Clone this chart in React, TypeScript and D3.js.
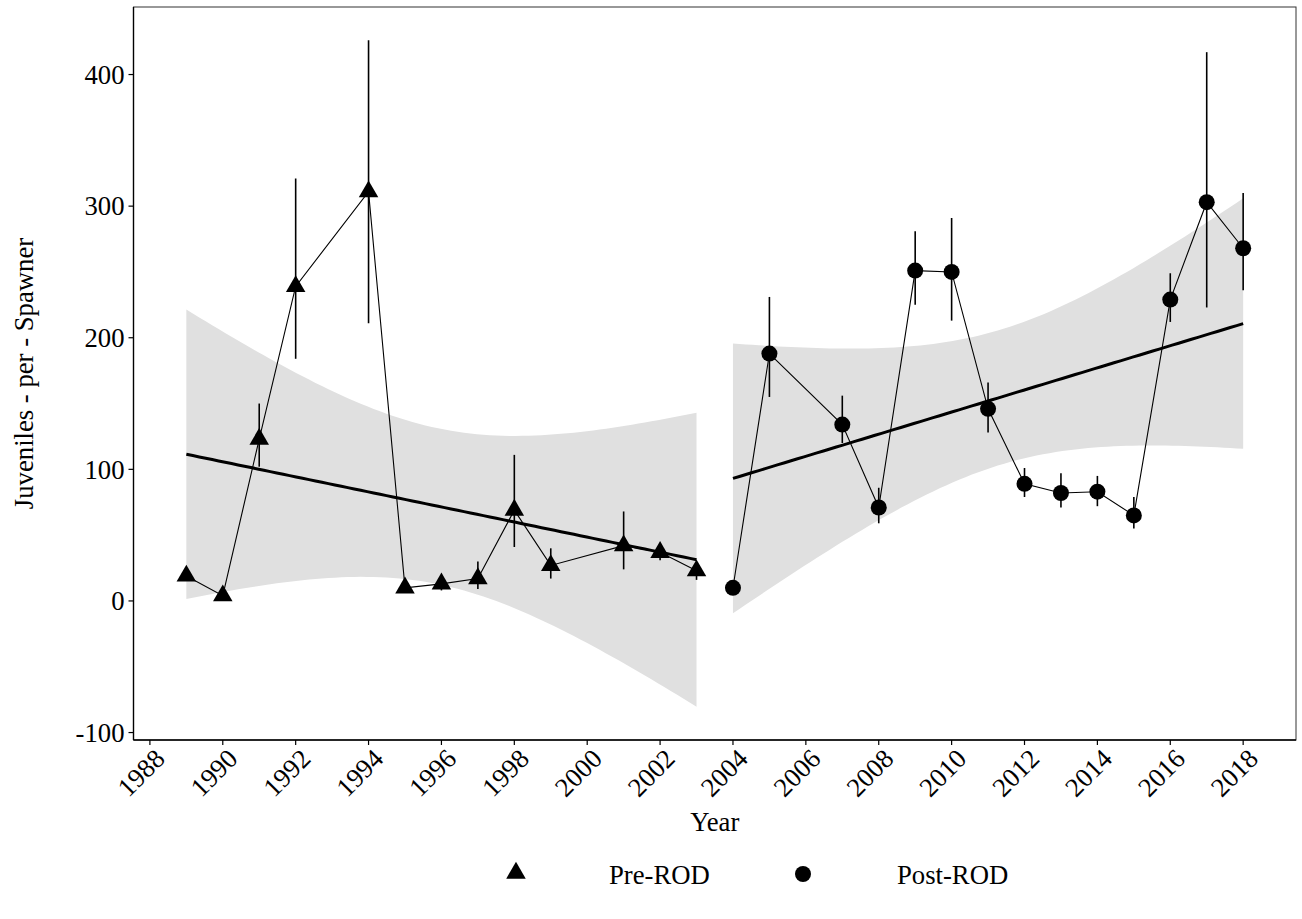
import React from "react";
import * as d3 from "d3";

// ---------- data ----------
const preYears = [1989, 1990, 1991, 1992, 1994, 1995, 1996, 1997, 1998, 1999, 2001, 2002, 2003];
const preValues = [19, 4, 123, 239, 311, 10, 13, 17, 69, 27, 42, 37, 23];
const preLow = [16, 2, 102, 184, 211, 8, 8, 9, 41, 17, 24, 31, 16];
const preHigh = [22, 6, 150, 321, 426, 12, 17, 30, 111, 40, 68, 43, 28];

const postYears = [2004, 2005, 2007, 2008, 2009, 2010, 2011, 2012, 2013, 2014, 2015, 2016, 2017, 2018];
const postValues = [10, 188, 134, 71, 251, 250, 146, 89, 82, 83, 65, 229, 303, 268];
const postLow = [7, 155, 120, 59, 225, 213, 128, 79, 71, 72, 55, 212, 223, 236];
const postHigh = [13, 231, 156, 86, 281, 291, 166, 101, 97, 95, 79, 249, 417, 310];

const xTicks = [1988, 1990, 1992, 1994, 1996, 1998, 2000, 2002, 2004, 2006, 2008, 2010, 2012, 2014, 2016, 2018];
const yTicks = [-100, 0, 100, 200, 300, 400];
const legendLabels = ["Pre-ROD", "Post-ROD"];
// two-sided 95% Student t critical values, indexed by degrees of freedom
const tCritical: Record<number, number> = { 10: 2.228139, 11: 2.200985, 12: 2.178813, 13: 2.160369 };

// ---------- layout ----------
const W = 1302;
const H = 919;
const P = { left: 133.5, right: 1296, top: 7, bottom: 740 };
const FONT = "'Liberation Serif', 'Times New Roman', serif";
const FS = 26.7;

function fitLm(xs: number[], ys: number[]) {
  const n = xs.length;
  const mx = d3.mean(xs)!;
  const my = d3.mean(ys)!;
  let sxx = 0, sxy = 0;
  for (let i = 0; i < n; i++) {
    sxx += (xs[i] - mx) ** 2;
    sxy += (xs[i] - mx) * (ys[i] - my);
  }
  const b = sxy / sxx;
  const a = my - b * mx;
  let rss = 0;
  for (let i = 0; i < n; i++) rss += (ys[i] - (a + b * xs[i])) ** 2;
  const s = Math.sqrt(rss / (n - 2));
  const t = tCritical[n - 2];
  const lo = d3.min(xs)!, hi = d3.max(xs)!;
  const pts = d3.range(80).map((i) => {
    const x = lo + ((hi - lo) * i) / 79;
    const fit = a + b * x;
    const se = s * Math.sqrt(1 / n + (x - mx) ** 2 / sxx);
    return { x, fit, ymin: fit - t * se, ymax: fit + t * se };
  });
  return pts;
}

export default function App() {
  const preFit = fitLm(preYears, preValues);
  const postFit = fitLm(postYears, postValues);

  const allX = [...preYears, ...postYears];
  const xMin = d3.min(allX)!, xMax = d3.max(allX)!;
  const xPad = (xMax - xMin) * 0.05;
  const allY = [
    ...preLow, ...preHigh, ...postLow, ...postHigh,
    ...preFit.map((d) => d.ymin), ...preFit.map((d) => d.ymax),
    ...postFit.map((d) => d.ymin), ...postFit.map((d) => d.ymax),
  ];
  const yMin = d3.min(allY)!, yMax = d3.max(allY)!;
  const yPad = (yMax - yMin) * 0.05;

  const x = d3.scaleLinear().domain([xMin - xPad, xMax + xPad]).range([P.left, P.right]);
  const y = d3.scaleLinear().domain([yMin - yPad, yMax + yPad]).range([P.bottom, P.top]);

  const area = d3.area<any>().x((d) => x(d.x)).y0((d) => y(d.ymin)).y1((d) => y(d.ymax));
  const fitLine = d3.line<any>().x((d) => x(d.x)).y((d) => y(d.fit));
  const conn = d3.line<[number, number]>().x((d) => x(d[0])).y((d) => y(d[1]));

  const tri = d3.symbol().type(d3.symbolTriangle).size(165)()!;

  const groups = [
    { years: preYears, values: preValues, low: preLow, high: preHigh, fit: preFit, shape: "tri" },
    { years: postYears, values: postValues, low: postLow, high: postHigh, fit: postFit, shape: "circle" },
  ];

  return (
    <svg width={W} height={H} style={{ position: "absolute", left: 0, top: 0, background: "#fff" }}>
      <rect x={0} y={0} width={W} height={H} fill="#fff" />
      {/* ribbons */}
      {groups.map((g, i) => (
        <path key={"rib" + i} d={area(g.fit)!} fill="#e0e0e0" stroke="none" />
      ))}
      {/* connecting lines */}
      {groups.map((g, i) => (
        <path
          key={"con" + i}
          d={conn(g.years.map((yr, j) => [yr, g.values[j]] as [number, number]))!}
          fill="none"
          stroke="#000"
          strokeWidth={1.1}
        />
      ))}
      {/* error bars */}
      {groups.map((g, i) =>
        g.years.map((yr, j) => (
          <line
            key={"eb" + i + "-" + j}
            x1={x(yr)}
            x2={x(yr)}
            y1={y(g.low[j])}
            y2={y(g.high[j])}
            stroke="#000"
            strokeWidth={1.6}
          />
        ))
      )}
      {/* fit lines */}
      {groups.map((g, i) => (
        <path key={"fit" + i} d={fitLine(g.fit)!} fill="none" stroke="#000" strokeWidth={3} />
      ))}
      {/* points */}
      {groups.map((g, i) =>
        g.years.map((yr, j) =>
          g.shape === "tri" ? (
            <path key={"pt" + i + "-" + j} d={tri} transform={`translate(${x(yr)},${y(g.values[j])})`} fill="#000" />
          ) : (
            <circle key={"pt" + i + "-" + j} cx={x(yr)} cy={y(g.values[j])} r={8} fill="#000" />
          )
        )
      )}
      {/* panel border */}
      <rect
        x={P.left}
        y={P.top}
        width={P.right - P.left}
        height={P.bottom - P.top}
        fill="none"
        stroke="#333"
        strokeWidth={1}
      />
      <line x1={P.left} x2={P.left} y1={P.top} y2={P.bottom} stroke="#000" strokeWidth={1.4} />
      <line x1={P.left} x2={P.right} y1={P.bottom} y2={P.bottom} stroke="#000" strokeWidth={1.4} />
      {/* y axis */}
      {yTicks.map((t) => (
        <g key={"yt" + t}>
          <line x1={P.left - 5} x2={P.left} y1={y(t)} y2={y(t)} stroke="#000" strokeWidth={1.2} />
          <text
            x={P.left - 9}
            y={y(t)}
            dy="0.35em"
            textAnchor="end"
            fontFamily={FONT}
            fontSize={FS}
            fill="#000"
          >
            {t}
          </text>
        </g>
      ))}
      {/* x axis */}
      {xTicks.map((t) => (
        <g key={"xt" + t}>
          <line x1={x(t)} x2={x(t)} y1={P.bottom} y2={P.bottom + 5} stroke="#000" strokeWidth={1.2} />
          <text
            transform={`translate(${x(t) + 3},${P.bottom + 7}) rotate(-45)`}
            dy="0.71em"
            textAnchor="end"
            fontFamily={FONT}
            fontSize={FS}
            fill="#000"
          >
            {t}
          </text>
        </g>
      ))}
      <text x={(P.left + P.right) / 2} y={831} textAnchor="middle" fontFamily={FONT} fontSize={FS} fill="#000">
        Year
      </text>
      <text
        transform={`translate(33,${(P.top + P.bottom) / 2}) rotate(-90)`}
        textAnchor="middle"
        fontFamily={FONT}
        fontSize={FS}
        fill="#000"
      >
        Juveniles - per - Spawner
      </text>
      {/* legend */}
      <path d={tri} transform="translate(516,873)" fill="#000" />
      <text x={609} y={884} fontFamily={FONT} fontSize={FS} fill="#000">
        {legendLabels[0]}
      </text>
      <circle cx={803} cy={874} r={8} fill="#000" />
      <text x={897} y={884} fontFamily={FONT} fontSize={FS} fill="#000">
        {legendLabels[1]}
      </text>
    </svg>
  );
}
